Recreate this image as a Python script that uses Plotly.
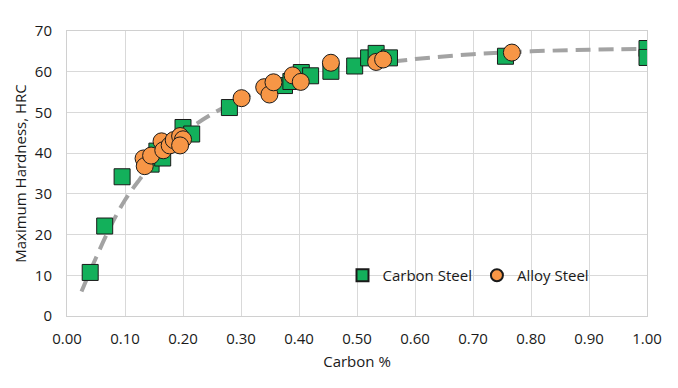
import plotly.graph_objects as go

# Carbon steel (green squares)
carbon_x = [0.04, 0.065, 0.095, 0.145, 0.155, 0.165, 0.20, 0.215, 0.28,
            0.375, 0.386, 0.404, 0.42, 0.455, 0.496, 0.52, 0.533, 0.556,
            0.756, 1.0, 1.0]
carbon_y = [10.7, 22.1, 34.2, 37.3, 40.5, 38.8, 46.3, 44.7, 51.2,
            56.6, 57.6, 59.8, 59.0, 60.1, 61.4, 63.4, 64.5, 63.4,
            63.8, 65.7, 63.5]

# Alloy steel (orange circles)
alloy_x = [0.132, 0.134, 0.145, 0.163, 0.166, 0.177, 0.184, 0.195, 0.2,
           0.195, 0.301, 0.34, 0.349, 0.356, 0.389, 0.403, 0.455, 0.533,
           0.545, 0.767]
alloy_y = [38.7, 36.8, 39.4, 42.9, 40.7, 41.9, 43.2, 44.2, 43.4,
           41.9, 53.5, 56.2, 54.4, 57.4, 59.1, 57.5, 62.2, 62.4,
           63.0, 64.7]

# Trend line
trend_x = [0.025, 0.05, 0.075, 0.10, 0.125, 0.15, 0.20, 0.25, 0.30, 0.35,
           0.40, 0.45, 0.50, 0.60, 0.70, 0.80, 0.90, 1.0]
trend_y = [6.0, 14.3, 22.0, 28.5, 33.5, 38.0, 44.8, 49.6, 53.3, 56.2,
           58.4, 60.0, 61.4, 63.1, 64.3, 65.0, 65.4, 65.6]

x_ticks = [0.0, 0.1, 0.2, 0.3, 0.4, 0.5, 0.6, 0.7, 0.8, 0.9, 1.0]
x_ticklabels = ["0.00", "0.10", "0.20", "0.30", "0.40", "0.50", "0.60",
                "0.70", "0.80", "0.90", "1.00"]
y_ticks = [0, 10, 20, 30, 40, 50, 60, 70]

FONT = "Open Sans"

fig = go.Figure()
fig.add_trace(go.Scatter(
    x=trend_x, y=trend_y, mode="lines", showlegend=False,
    line=dict(color="#a3a3a3", width=4, dash="15px,8px", shape="spline"),
    hoverinfo="skip"))
fig.add_trace(go.Scatter(
    x=carbon_x, y=carbon_y, mode="markers", name="Carbon Steel",
    marker=dict(symbol="square", size=16, color="#13B05B",
                line=dict(color="#1a1a1a", width=1))))
fig.add_trace(go.Scatter(
    x=alloy_x, y=alloy_y, mode="markers", name="Alloy Steel",
    marker=dict(symbol="circle", size=17, color="#F79646",
                line=dict(color="#1a1a1a", width=1))))

# page body has an 8px default margin, so margins are shifted to compensate
fig.update_layout(
    width=678, height=388,
    margin=dict(l=58, r=39, t=16, b=80),
    paper_bgcolor="white", plot_bgcolor="white",
    font=dict(family=FONT, size=15, color="#1a1a1a"),
    legend=dict(orientation="h", x=0.475, y=0.142, xanchor="left", yanchor="middle",
                bgcolor="rgba(0,0,0,0)", font=dict(size=15),
                itemwidth=30, tracegroupgap=0, itemsizing="constant"),
    xaxis=dict(range=[0, 1.0], tickvals=x_ticks, ticktext=x_ticklabels,
               showgrid=True, gridcolor="#d9d9d9", gridwidth=1,
               showline=True, linecolor="#d0d0d0", mirror=True,
               zeroline=False, ticks="", ticklabelstandoff=9,
               title=dict(text="Carbon %", font=dict(size=15), standoff=9)),
    yaxis=dict(range=[0, 70], tickvals=y_ticks,
               showgrid=True, gridcolor="#d9d9d9", gridwidth=1,
               showline=True, linecolor="#d0d0d0", mirror=True,
               zeroline=False, ticks="", ticklabelstandoff=11,
               title=dict(text="Maximum Hardness, HRC", font=dict(size=15), standoff=4)),
)

fig.write_html("out.html")
